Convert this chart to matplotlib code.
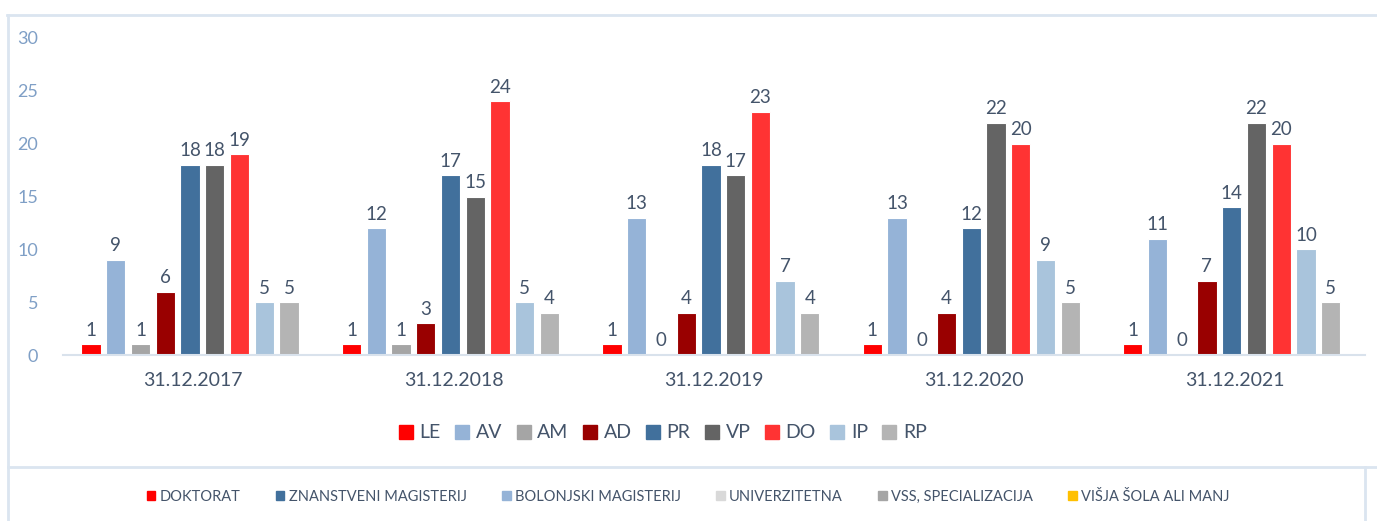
import numpy as np
import matplotlib.pyplot as plt
from matplotlib.patches import Patch
from matplotlib.lines import Line2D

plt.rcParams['font.family'] = ['Lato', 'DejaVu Sans']

# data
dates = ['31.12.2017', '31.12.2018', '31.12.2019', '31.12.2020', '31.12.2021']
series = ['LE', 'AV', 'AM', 'AD', 'PR', 'VP', 'DO', 'IP', 'RP']
le = [1, 1, 1, 1, 1]
av = [9, 12, 13, 13, 11]
am = [1, 1, 0, 0, 0]
ad = [6, 3, 4, 4, 7]
pr = [18, 17, 18, 12, 14]
vp = [18, 15, 17, 22, 22]
do = [19, 24, 23, 20, 20]
ip = [5, 5, 7, 9, 10]
rp = [5, 4, 4, 5, 5]
values = [le, av, am, ad, pr, vp, do, ip, rp]
colors = ['#ff0000', '#95b3d7', '#a5a5a5', '#990000', '#41709c',
          '#646464', '#ff3333', '#a9c4dc', '#b4b4b4']

other_labels = ['DOKTORAT', 'ZNANSTVENI MAGISTERIJ', 'BOLONJSKI MAGISTERIJ',
                'UNIVERZITETNA', 'VSS, SPECIALIZACIJA', 'VIŠJA ŠOLA ALI MANJ']
other_colors = ['#ff0000', '#41709c', '#95b3d7', '#d9d9d9', '#a5a5a5', '#ffc000']

txt = '#44546a'
frame_col = '#dbe5f0'

fig = plt.figure(figsize=(13.77, 5.21), dpi=100)
ax = fig.add_axes([63 / 1377, 1 - 355 / 521, 1302 / 1377, 317 / 521])

x = np.arange(len(dates))
slot = 0.095
bw = 0.074
for i, (name, vals, c) in enumerate(zip(series, values, colors)):
    pos = x + (i - 4) * slot - 0.012
    bars = ax.bar(pos, vals, bw, color=c, edgecolor='white', linewidth=0.8, label=name)
    ax.bar_label(bars, padding=4, fontsize=13.5, color=txt)

ax.set_xlim(-0.5, len(dates) - 0.5)
ax.set_ylim(0, 30)
ax.set_yticks(range(0, 31, 5))
ax.set_xticks(x)
ax.set_xticklabels(dates)
ax.tick_params(axis='y', length=0, pad=18, labelsize=13, labelcolor='#7f9fc6')
ax.tick_params(axis='x', length=0, pad=12, labelsize=14, labelcolor=txt)
for s in ['top', 'right', 'left']:
    ax.spines[s].set_visible(False)
ax.spines['bottom'].set_color('#d9e2ec')
ax.spines['bottom'].set_linewidth(1.5)

handles = [Patch(color=c, label=s) for s, c in zip(series, colors)]
fig.legend(handles=handles, loc='center', bbox_to_anchor=(663 / 1377, 1 - 433 / 521),
           ncol=9, frameon=False, fontsize=14, labelcolor=txt,
           handlelength=0.7, handleheight=0.7, handletextpad=0.35, columnspacing=0.75)

handles2 = [Patch(color=c, label=s) for s, c in zip(other_labels, other_colors)]
fig.legend(handles=handles2, loc='center', bbox_to_anchor=(688 / 1377, 1 - 497 / 521),
           ncol=6, frameon=False, fontsize=10.5, labelcolor=txt,
           handlelength=0.6, handleheight=0.6, handletextpad=0.3, columnspacing=2.4)

# frame lines around the chart area
W, H = 1377, 521
for xs, ys in [((7, W), (15, 15)), ((8, 8), (15, H)), ((8, W), (467, 467)), ((1365, 1365), (467, H))]:
    fig.add_artist(Line2D([a / W for a in xs], [1 - b / H for b in ys],
                          color=frame_col, linewidth=2))

fig.savefig('out.png', dpi=100)
